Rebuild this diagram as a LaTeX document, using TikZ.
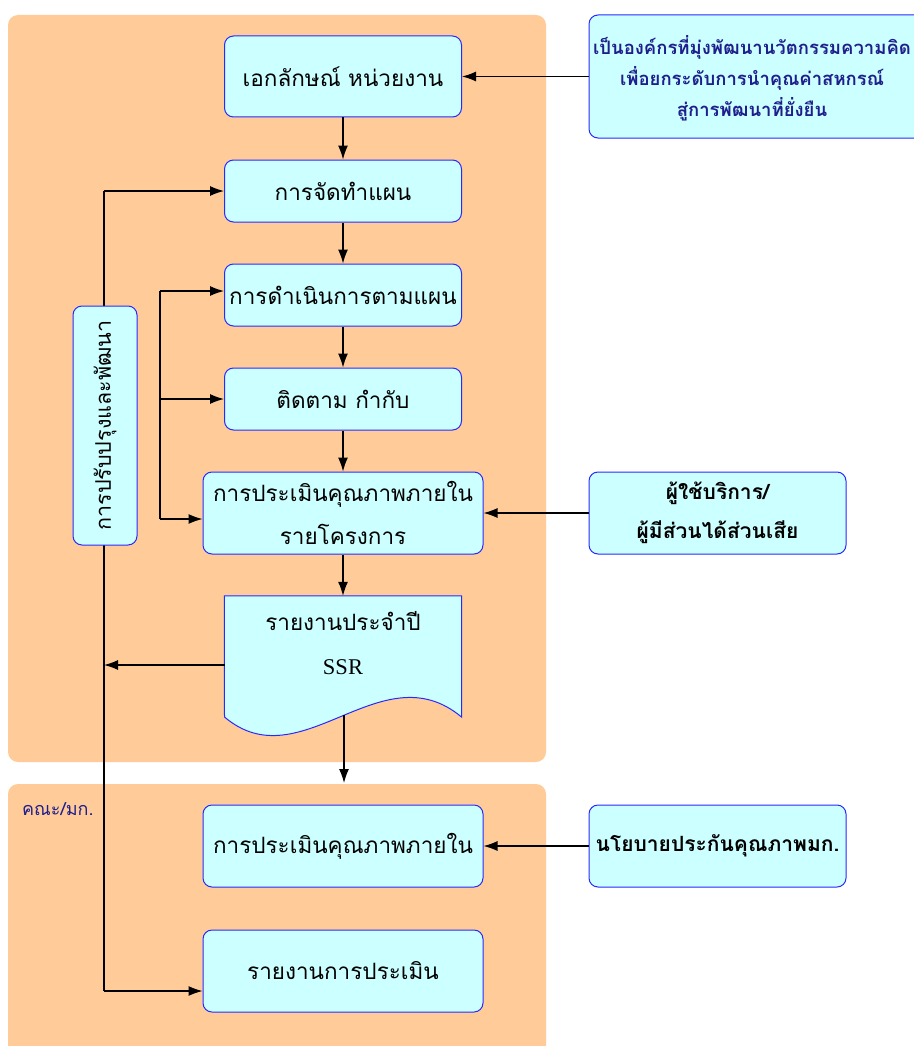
\documentclass[tikz,border=0pt]{standalone}
\usepackage{fontspec}
\setmainfont{Liberation Serif}
\newfontfamily\thai[Script=Thai]{Loma}
\usetikzlibrary{arrows.meta}
\definecolor{peach}{RGB}{255,204,153}
\definecolor{lcyan}{RGB}{204,255,255}
\definecolor{bblue}{RGB}{40,40,255}
\definecolor{navy}{RGB}{30,30,140}
\begin{document}
\begin{tikzpicture}[x=1pt,y=-1pt,
 box/.style={draw=bblue, fill=lcyan, rounded corners=9pt, line width=1pt, inner sep=0pt, align=center, font=\thai\fontsize{22.5}{43}\selectfont},
 sidebox/.style={box, font=\thai\bfseries\fontsize{21}{39}\selectfont},
 panel/.style={fill=peach, rounded corners=10pt, draw=none},
 conn/.style={line width=1.2pt, -{Latex[length=14pt,width=10pt]}},
 plain/.style={line width=1.2pt}
]
\useasboundingbox (0,0) rectangle (913,1046);
\fill[white] (0,0) rectangle (913,1046);
% panels
\node[panel, minimum width=538, minimum height=747, inner sep=0] (P1) at (277,388.5) {};
\node[panel, minimum width=538, minimum height=290, inner sep=0] (P2) at (277,929) {};
\node[anchor=west, text=navy, font=\thai\fontsize{18}{20}\selectfont, inner sep=0] (P2l) at (22,809) {คณะ/มก.};

% main column
\node[box, minimum width=237, minimum height=81] (A) at (343,76.5) {เอกลักษณ์ หน่วยงาน};
\node[box, minimum width=237, minimum height=62] (B) at (343,191) {การจัดทำแผน};
\node[box, minimum width=237, minimum height=62] (C) at (343,295) {การดำเนินการตามแผน};
\node[box, minimum width=237, minimum height=62] (D) at (343,399) {ติดตาม กำกับ};
\node[box, minimum width=280, minimum height=82] (E) at (343,513) {การประเมินคุณภาพภายใน\\รายโครงการ};
% document shape
\node[inner sep=0, minimum width=237, minimum height=121] (F) at (343,656.5) {};
\draw[draw=bblue, fill=lcyan, line width=1pt] (F.north west) -- (F.north east) -- (461.5,717)
  .. controls (381,650) and (301,782) .. (224.5,717) -- cycle;
\node[align=center, inner sep=0, font=\thai\fontsize{22.5}{44}\selectfont] (Ft) at (343,643) {รายงานประจำปี\\{\rmfamily\fontsize{22.5}{44}\selectfont SSR}};
\node[box, minimum width=280, minimum height=82] (G) at (343,846) {การประเมินคุณภาพภายใน};
\node[box, minimum width=280, minimum height=82] (H) at (343,971) {รายงานการประเมิน};

% side boxes
\node[box, minimum width=351, minimum height=123] (R1) at (764.5,76.5) {};
\node[align=center, inner sep=0, text=navy, font=\thai\bfseries\fontsize{18.5}{31}\selectfont] (R1t) at (752,78) {เป็นองค์กรที่มุ่งพัฒนานวัตกรรมความคิด\\เพื่อยกระดับการนำคุณค่าสหกรณ์\\สู่การพัฒนาที่ยั่งยืน};
\node[sidebox, minimum width=257, minimum height=82] (R2) at (717.5,513) {ผู้ใช้บริการ/\\ผู้มีส่วนได้ส่วนเสีย};
\node[sidebox, minimum width=257, minimum height=82] (R3) at (717.5,846) {นโยบายประกันคุณภาพมก.};

% coordinates
\coordinate (Fb) at (344,715);
\coordinate (Gin) at (344,783);
\coordinate (Fw) at (224.5,665);
\coordinate (Lt) at (160,291);
\coordinate (Lb) at (160,519);
\coordinate (Vx) at (104,665);
\coordinate (Vtop) at (104,191);
\coordinate (Vbot) at (104,991);

% left feedback line (behind the vertical box)
\draw[plain] (Vtop) -- (Vbot);
\draw[conn] (Vtop) -- (Vtop -| B.west);
\draw[conn] (Vbot) -- (Vbot -| H.west);
\draw[conn] (Fw) -- (Vx);

% vertical box
\node[box, minimum width=64, minimum height=239] (V) at (105,425.5) {};
\node[rotate=90, inner sep=0, font=\thai\fontsize{21.5}{24}\selectfont] (Vt) at (V.center) {การปรับปรุงและพัฒนา};

% bracket loop
\draw[plain] (Lt) -- (Lb);
\draw[conn] (Lt) -- (Lt -| C.west);
\draw[conn] (Lt |- D.west) -- (D.west);
\draw[conn] (Lb) -- (Lb -| E.west);

% main flow
\draw[conn] (R1.west) -- (A.east);
\draw[conn] (A.south) -- (B.north);
\draw[conn] (B.south) -- (C.north);
\draw[conn] (C.south) -- (D.north);
\draw[conn] (D.south) -- (E.north);
\draw[conn] (E.south) -- (F.north);
\draw[conn] (Fb) -- (Gin);
\draw[conn] (R2.west) -- (E.east);
\draw[conn] (R3.west) -- (G.east);
\end{tikzpicture}
\end{document}
